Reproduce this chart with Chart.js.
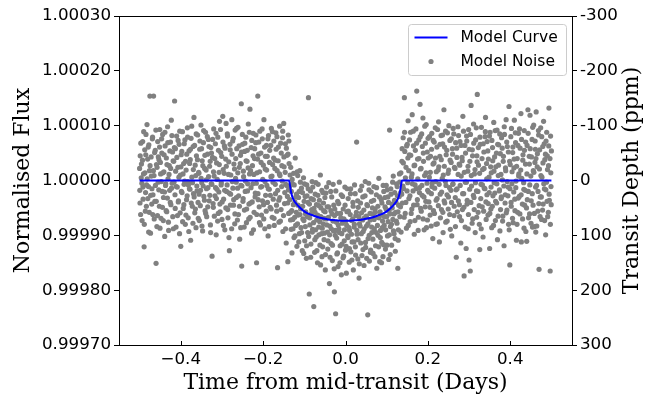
<!DOCTYPE html>
<html>
<head>
<meta charset="utf-8">
<script src="https://cdn.jsdelivr.net/npm/chart.js@4.4.0/dist/chart.umd.min.js"></script>
<style>
html, body { margin: 0; padding: 0; background: #fff; }
#wrap { width: 645px; height: 398px; }
</style>
</head>
<body>
<div id="wrap"><canvas id="lightCurve" width="645" height="398"></canvas></div>
<script>
// Model transit curve: time (days) and flux offset (ppm)
const modelX = [-0.5, -0.137, -0.135, -0.132, -0.128, -0.122, -0.114, -0.104, -0.092, -0.078, -0.062, -0.045, -0.025, 0,
                0.025, 0.045, 0.062, 0.078, 0.092, 0.104, 0.114, 0.122, 0.128, 0.132, 0.135, 0.137, 0.5];
const modelPpm = [0, 0, -8, -22, -32, -40, -47, -54, -60, -64, -68, -70.5, -72.5, -73.5,
                  -72.5, -70.5, -68, -64, -60, -54, -47, -40, -32, -22, -8, 0, 0];

// Noise points: [time in thousandths of a day, flux offset in ppm]
const noisePoints = [
[-500,22],[-499,-41],[-497,68],[-496,5],[-494,-73],[-493,37],[-492,-12],[-490,89],[-489,-121],[-487,14],[-486,-56],[-485,47],[-483,-8],[-482,102],[-480,-33],[-479,61],[-478,-94],[-476,18],[-475,154],[-473,-27],
[-472,43],[-470,-15],[-469,76],[-468,-62],[-466,154],[-465,9],[-463,-38],[-462,55],[-460,-151],[-459,29],[-458,-84],[-456,71],[-455,-3],[-453,38],[-452,-47],[-451,93],[-449,12],[-448,-69],[-446,50],[-445,-20],
[-444,84],[-442,-31],[-441,16],[-439,-102],[-438,63],[-437,-9],[-435,41],[-434,-57],[-432,98],[-431,3],[-430,-76],[-428,27],[-427,-18],[-425,70],[-424,-44],[-423,110],[-421,-5],[-420,52],[-418,-88],[-417,35],
[-415,145],[-414,-26],[-413,58],[-411,-11],[-410,81],[-408,-64],[-407,24],[-406,-39],[-404,66],[-403,-97],[-401,10],[-400,-120],[-399,47],[-397,-22],[-396,89],[-394,-51],[-393,31],[-392,-7],[-390,74],[-389,-80],
[-387,19],[-386,-35],[-384,96],[-383,-2],[-382,-68],[-380,54],[-379,-15],[-377,38],[-376,-109],[-375,77],[-373,6],[-372,-47],[-370,62],[-369,-24],[-368,115],[-366,-59],[-365,28],[-363,-86],[-362,45],[-361,-10],
[-359,83],[-358,-40],[-356,13],[-355,-73],[-354,57],[-352,-18],[-351,101],[-349,-4],[-348,36],[-347,-92],[-345,69],[-344,-29],[-342,22],[-341,-55],[-340,88],[-338,1],[-337,-66],[-335,48],[-334,-13],[-333,75],
[-331,-37],[-330,26],[-328,-81],[-327,60],[-326,-6],[-324,-138],[-323,42],[-321,-49],[-320,94],[-319,8],[-317,-28],[-316,67],[-314,-99],[-313,32],[-312,-16],[-310,79],[-309,-60],[-307,15],[-306,108],[-305,-43],
[-303,51],[-302,-8],[-300,-71],[-298,117],[-297,20],[-296,-34],[-294,63],[-293,-90],[-291,39],[-290,104],[-289,-20],[-287,85],[-286,-53],[-284,11],[-283,-104],[-282,-128],[-280,56],[-279,-25],[-276,111],[-275,-2],
[-274,72],[-272,-45],[-271,30],[-269,-79],[-268,92],[-267,4],[-265,-31],[-264,58],[-262,-14],[-261,97],[-260,-62],[-258,24],[-257,-107],[-255,46],[-254,-9],[-253,140],[-252,-156],[-250,66],[-249,-38],[-248,17],
[-246,-85],[-245,53],[-243,-1],[-242,79],[-240,-52],[-239,35],[-238,-19],[-236,103],[-235,-70],[-233,12],[-232,130],[-231,-41],[-229,60],[-228,-96],[-226,27],[-225,-6],[-224,86],[-222,-58],[-221,40],[-219,-23],
[-218,69],[-216,-150],[-215,14],[-213,154],[-212,-35],[-211,48],[-209,-77],[-208,90],[-206,-12],[-205,33],[-204,-63],[-202,76],[-201,2],[-199,-44],[-198,111],[-196,-88],[-195,21],[-194,-27],[-192,64],[-191,-9],
[-190,44],[-188,-101],[-187,82],[-185,-16],[-184,55],[-183,-49],[-181,7],[-180,95],[-178,-67],[-177,29],[-176,-3],[-174,72],[-173,-82],[-171,37],[-170,-24],[-169,87],[-167,-56],[-166,18],[-165,-159],[-163,61],
[-162,-36],[-160,99],[-159,9],[-158,-74],[-156,50],[-155,-11],[-153,78],[-152,-93],[-150,104],[-149,25],[-148,-42],[-146,67],[-145,-7],[-144,-114],[-142,46],[-141,-29],[-140,-148],[-139,83],[-138,-60],[-137,31],
[-136,-12],[-134,-58],[-133,24],[-132,-89],[-130,-132],[-129,-6],[-128,-71],[-126,13],[-125,-104],[-123,-39],[-122,41],[-121,-82],[-119,-25],[-118,-120],[-116,9],[-115,-63],[-114,-31],[-112,-97],[-111,18],[-109,-52],
[-108,-86],[-107,-14],[-105,-128],[-104,-47],[-102,5],[-101,-73],[-99,-110],[-98,-29],[-97,-61],[-95,-142],[-94,-8],[-92,-95],[-91,-40],[-90,151],[-88,-207],[-87,-68],[-85,-19],[-84,-116],[-82,-53],[-81,-2],
[-80,-89],[-78,-35],[-77,-230],[-75,-131],[-74,-58],[-72,-4],[-71,-103],[-70,-72],[-68,-150],[-67,-27],[-65,-85],[-64,-46],[-62,-118],[-61,10],[-60,-66],[-58,-97],[-57,-139],[-55,-22],[-54,-79],[-53,-55],
[-52,-108],[-50,-31],[-49,-163],[-47,-70],[-46,-12],[-44,-94],[-43,-125],[-41,-48],[-39,-188],[-38,-83],[-36,-20],[-35,-115],[-33,-61],[-32,-146],[-30,-7],[-29,-92],[-27,-203],[-26,-52],[-24,-243],[-25,-100],
[-22,-76],[-21,-134],[-19,-38],[-18,-157],[-16,-88],[-15,-3],[-13,-119],[-12,-60],[-10,-172],[-9,-97],[-7,-29],[-6,-141],[-4,-70],[-3,-110],[-1,-45],[0,-127],[2,-169],[3,-82],[4,-15],[6,-104],
[7,-56],[9,-149],[10,-91],[12,-24],[13,-130],[15,-73],[16,-112],[18,-40],[19,-163],[21,-85],[22,-8],[24,-121],[25,-64],[27,70],[28,-98],[30,-143],[31,-49],[33,-178],[34,-79],[36,-18],
[37,-114],[39,-59],[40,-137],[42,-30],[43,-93],[45,-155],[46,-68],[48,-2],[49,-122],[51,-83],[52,-44],[54,-245],[55,-106],[57,-17],[58,-147],[60,-72],[61,-127],[63,-38],[64,-95],[66,-61],
[67,-133],[69,-11],[70,-88],[72,-52],[73,-119],[75,-26],[76,-160],[78,-67],[79,-100],[81,4],[83,-148],[84,-57],[85,-91],[87,-35],[88,-113],[90,-74],[91,-139],[93,-20],[94,-82],[96,-48],
[97,-125],[99,-9],[100,-66],[102,-101],[103,-30],[105,-144],[106,-55],[107,92],[109,-84],[110,-15],[112,-118],[113,-43],[115,-71],[116,8],[118,-97],[119,-36],[121,-129],[122,-58],[124,-6],[127,-160],
[125,-78],[126,-28],[128,-109],[129,-45],[131,12],[132,-66],[134,-22],[135,-94],[137,35],[138,-41],[140,78],[141,-15],[143,151],[144,53],[145,-60],[147,24],[148,-87],[150,66],[151,-4],[152,109],
[154,-33],[155,47],[157,-75],[158,88],[160,6],[161,-52],[162,120],[164,-19],[165,63],[167,-98],[168,28],[169,-8],[171,94],[173,163],[174,-44],[175,39],[177,-67],[178,74],[180,-13],[181,139],
[182,21],[184,-56],[185,85],[186,-27],[188,114],[189,50],[191,-90],[192,9],[194,68],[195,-38],[196,102],[198,-5],[199,-72],[201,41],[202,-21],[204,80],[205,-49],[206,15],[208,-83],[209,57],
[210,-11],[212,-106],[213,73],[215,32],[216,-60],[218,96],[219,-2],[220,-36],[222,61],[223,-79],[225,19],[226,107],[228,-112],[229,44],[230,-25],[232,82],[233,-53],[235,4],[236,67],[237,-95],
[239,129],[240,26],[241,-41],[243,90],[244,-9],[246,55],[247,-74],[249,13],[250,-30],[251,100],[253,-62],[254,37],[256,-18],[257,76],[258,-101],[260,48],[261,-6],[263,85],[264,-47],[266,22],
[267,-84],[269,-140],[270,59],[271,-15],[273,98],[274,-37],[276,30],[277,-66],[278,71],[280,-114],[281,8],[283,42],[284,-53],[285,117],[287,-24],[288,-174],[290,64],[291,-3],[293,-124],[294,81],
[295,-43],[297,17],[298,-88],[299,93],[300,-145],[302,35],[303,-165],[305,137],[306,-10],[308,56],[309,-70],[311,103],[312,-31],[313,12],[315,-95],[316,74],[318,-19],[319,45],[320,157],[322,-58],
[323,28],[325,-80],[326,-126],[327,66],[329,-7],[330,97],[332,-48],[333,20],[334,-103],[336,52],[337,-14],[339,80],[340,115],[341,-39],[343,3],[344,71],[346,-63],[347,39],[349,-22],[350,-124],
[351,88],[353,-52],[354,14],[355,-86],[357,60],[358,-28],[360,106],[361,-4],[362,43],[364,-73],[365,25],[367,-41],[368,92],[369,-108],[371,9],[372,65],[374,-17],[375,-92],[376,49],[378,-33],
[379,78],[381,1],[382,-65],[383,35],[385,-119],[386,84],[388,-26],[389,18],[390,111],[392,-54],[393,62],[395,-12],[396,-80],[397,135],[399,-154],[400,29],[402,-40],[403,95],[404,-6],[406,51],
[407,-77],[409,23],[410,110],[411,-34],[413,69],[414,-1],[415,-109],[417,40],[418,-58],[420,86],[421,12],[422,-29],[424,59],[426,122],[427,-112],[428,4],[430,-70],[431,47],[433,-16],[434,91],
[435,-45],[437,30],[438,-93],[440,-111],[441,64],[443,129],[444,-20],[446,44],[447,-61],[448,119],[450,8],[451,-37],[453,75],[454,-85],[456,18],[457,101],[459,-84],[460,33],[462,-94],[461,57],
[463,125],[464,-9],[466,49],[467,-56],[469,83],[470,-162],[471,21],[473,-30],[474,96],[476,-71],[477,6],[479,62],[480,-43],[481,108],[483,-15],[484,38],[486,-99],[487,72],[488,-3],[490,45],
[491,-66],[493,27],[494,132],[495,-36],[497,-165],[498,81],[499,-11],[500,54],
[-499.5,-18],[-498.5,45],[-497.5,-62],[-495.5,30],[-494.5,-5],[-492.5,71],[-491.5,-34],[-490.5,12],[-488.5,-80],[-487.5,56],[-485.5,-22],[-484.5,84],[-483.5,-47],[-481.5,3],[-480.5,39],[-478.5,-11],[-477.5,65],[-476.5,-58],[-474.5,27],[-473.5,-96],
[-471.5,8],[-470.5,-43],[-468.5,79],[-467.5,-26],[-466.5,18],[-464.5,-70],[-463.5,51],[-461.5,-9],[-460.5,92],[-459.5,-38],[-457.5,24],[-456.5,-64],[-454.5,43],[-453.5,-17],[-451.5,61],[-450.5,-87],[-449.5,33],[-447.5,-2],[-446.5,76],[-444.5,-49],
[-443.5,14],[-442.5,-73],[-440.5,47],[-439.5,-21],[-438.5,88],[-436.5,-6],[-435.5,-55],[-433.5,29],[-432.5,-32],[-431.5,69],[-429.5,-91],[-428.5,11],[-426.5,54],[-425.5,-40],[-424.5,22],[-422.5,-14],[-421.5,82],[-419.5,-66],[-418.5,36],[-416.5,-3],
[-415.5,60],[-413.5,-51],[-412.5,17],[-411.5,-85],[-409.5,42],[-408.5,-12],[-406.5,73],[-405.5,-37],[-404.5,6],[-402.5,90],[-401.5,-59],[-399.5,25],[-398.5,-20],[-397.5,53],[-395.5,-75],[-394.5,12],[-392.5,-44],[-391.5,67],[-390.5,-1],[-388.5,35],
[-387.5,-63],[-385.5,48],[-384.5,-28],[-383.5,79],[-381.5,-8],[-380.5,-93],[-378.5,31],[-377.5,-16],[-376.5,57],[-374.5,-41],[-373.5,99],[-371.5,-4],[-370.5,-78],[-369.5,20],[-367.5,-30],[-366.5,64],[-364.5,-52],[-363.5,9],[-362.5,85],[-360.5,-19],
[-359.5,38],[-357.5,-69],[-356.5,15],[-355.5,-25],[-353.5,72],[-352.5,-46],[-350.5,4],[-349.5,58],[-348.5,-83],[-346.5,27],[-345.5,-10],[-344.5,91],[-342.5,-36],[-341.5,46],[-339.5,-60],[-338.5,19],[-337.5,-15],[-335.5,80],[-334.5,-48],[-332.5,7],
[-331.5,62],[-329.5,-27],[-328.5,35],[-327.5,-95],[-325.5,50],[-324.5,-7],[-322.5,75],[-321.5,-42],[-320.5,16],[-318.5,-65],[-317.5,40],[-315.5,-13],[-314.5,86],[-313.5,-33],[-311.5,2],[-310.5,-74],[-308.5,55],[-307.5,-21],[-306.5,29],[-304.5,-57],
[-303.5,93],[-301.5,-4],[-300.5,44],[-299.5,-39],[-297.5,70],[-296.5,-82],[-294.5,13],[-293.5,-18],[-292.5,59],[-290.5,-50],[-289.5,26],[-287.5,-8],[-286.5,81],[-285.5,-68],[-283.5,34],[-282.5,-23],[-280.5,66],[-279.5,-45],[-278.5,10],[-276.5,-88],
[-275.5,48],[-273.5,-14],[-272.5,77],[-271.5,-35],[-269.5,21],[-268.5,-61],[-266.5,40],[-265.5,-3],[-264.5,95],[-262.5,-72],[-261.5,14],[-259.5,-28],[-258.5,63],[-257.5,-47],[-255.5,31],[-254.5,-86],[-252.5,52],[-251.5,-10],[-250.5,84],[-248.5,-33],
[-247.5,7],[-245.5,-54],[-244.5,68],[-243.5,-20],[-241.5,36],[-240.5,-77],[-238.5,55],[-237.5,-6],[-236.5,23],[-234.5,-43],[-233.5,88],[-231.5,-67],[-230.5,18],[-229.5,-13],[-227.5,73],[-226.5,-39],[-224.5,45],[-223.5,-90],[-222.5,11],[-220.5,58],
[-219.5,-30],[-217.5,83],[-216.5,-5],[-215.5,-62],[-213.5,39],[-212.5,-24],[-210.5,70],[-209.5,-48],[-208.5,16],[-206.5,-81],[-205.5,50],[-203.5,-11],[-202.5,94],[-201.5,-37],[-199.5,28],[-198.5,-70],[-196.5,61],[-195.5,-2],[-194.5,44],[-192.5,-56],
[-191.5,19],[-189.5,-40],[-188.5,76],[-187.5,-15],[-185.5,-84],[-184.5,33],[-182.5,-27],[-181.5,64],[-180.5,-52],[-178.5,8],[-177.5,89],[-175.5,-34],[-174.5,41],[-173.5,-69],[-171.5,22],[-170.5,-7],[-168.5,57],[-167.5,-45],[-166.5,80],[-164.5,-18],
[-163.5,36],[-161.5,-76],[-160.5,12],[-159.5,-31],[-157.5,68],[-156.5,-53],[-154.5,27],[-153.5,-1],[-152.5,90],[-150.5,-64],[-149.5,43],[-147.5,-22],[-146.5,15],[-145.5,-88],[-143.5,59],[-142.5,-9],[-140.5,-41],[-139.5,48],[-138.5,-17],[-137.5,72],
[-135.5,-35],[-134.5,10],[-133.5,-72],[-131.5,-20],[-130.5,-55],[-129.5,2],[-127.5,-88],[-126.5,-44],[-124.5,-8],[-123.5,-67],[-122.5,-101],[-120.5,-30],[-119.5,-58],[-117.5,16],[-116.5,-79],[-115.5,-45],[-113.5,-112],[-112.5,-20],[-110.5,-62],[-109.5,-3],
[-107.5,-48],[-106.5,-95],[-104.5,-22],[-103.5,-70],[-101.5,-133],[-100.5,-38],[-99.5,-6],[-97.5,-84],[-96.5,-57],[-94.5,-119],[-93.5,-28],[-92.5,-66],[-90.5,-15],[-89.5,-102],[-87.5,-43],[-86.5,-81],[-84.5,-140],[-83.5,-33],[-82.5,-60],[-80.5,-94],
[-79.5,-12],[-77.5,-77],[-76.5,-51],[-74.5,-108],[-73.5,-25],[-72.5,-90],[-70.5,-44],[-69.5,-128],[-67.5,-63],[-66.5,-7],[-64.5,-99],[-63.5,-36],[-62.5,-75],[-60.5,-154],[-59.5,-50],[-57.5,-18],[-56.5,-87],[-55.5,-121],[-53.5,-41],[-52.5,-69],
[-51.5,-96],[-49.5,-57],[-48.5,-135],[-47.5,-23],[-45.5,-81],[-44.5,-48],[-42.5,-110],[-41.5,-67],[-40.5,-4],[-38.5,-99],[-37.5,-140],[-35.5,-55],[-34.5,-88],[-33.5,-30],[-31.5,-118],[-30.5,-74],[-28.5,-45],[-27.5,-161],[-26.5,-64],[-24.5,-91],
[-23.5,-19],[-21.5,-105],[-20.5,-60],[-19.5,-132],[-17.5,-81],[-16.5,-42],[-14.5,-95],[-13.5,-150],[-11.5,-68],[-10.5,-26],[-8.5,-116],[-7.5,-78],[-5.5,-52],[-4.5,-138],[-2.5,-90],[-1.5,-12],[0.5,-74],[1.5,-120],[3.5,-57],[5.5,-101],
[6.5,-33],[8.5,-86],[9.5,-124],[11.5,-62],[12.5,-15],[14.5,-98],[15.5,-145],[17.5,-70],[18.5,-47],[20.5,-112],[21.5,-80],[23.5,-24],[24.5,-136],[26.5,-58],[27.5,-91],[29.5,-37],[30.5,-108],[32.5,-66],[33.5,-152],[35.5,-83],
[36.5,-41],[38.5,-97],[39.5,-10],[41.5,-72],[42.5,-126],[44.5,-54],[45.5,-88],[47.5,-28],[48.5,-113],[50.5,-65],[51.5,-142],[53.5,-46],[54.5,-79],[56.5,-5],[57.5,-100],[59.5,-60],[60.5,-131],[62.5,-21],[63.5,-85],[65.5,-50],
[66.5,-107],[68.5,-36],[69.5,-71],[71.5,-139],[72.5,-58],[74.5,-95],[75.5,-13],[77.5,-82],[78.5,-47],[80.5,-121],[81.5,-68],[82.5,-30],[84.5,-104],[85.5,-63],[87.5,-150],[88.5,-41],[89.5,-86],[91.5,-9],[92.5,-117],[94.5,-66],
[95.5,-31],[97.5,-90],[98.5,-52],[100.5,-118],[101.5,-17],[103.5,-75],[104.5,-40],[106.5,-99],[107.5,-61],[108.5,-135],[110.5,-25],[111.5,-80],[113.5,-50],[114.5,-3],[116.5,-92],[117.5,-61],[119.5,-22],[120.5,-106],[122.5,-40],[123.5,-74],
[125.5,-11],[127.5,-57],[128.5,-90],[130.5,-29],[131.5,-3],[133.5,-48],[134.5,14],[136.5,-25],[137.5,58],[139.5,-10],[140.5,32],[142.5,-67],[143.5,88],[145.5,5],[146.5,-40],[148.5,63],[149.5,-19],[151.5,41],[152.5,-82],[153.5,18],
[155.5,74],[156.5,-28],[158.5,46],[159.5,-60],[161.5,12],[162.5,-6],[164.5,90],[165.5,-45],[166.5,27],[168.5,-73],[169.5,55],[171.5,-15],[172.5,68],[174.5,-35],[175.5,3],[176.5,-91],[178.5,40],[179.5,-22],[181.5,80],[182.5,-51],
[183.5,22],[185.5,-9],[186.5,62],[188.5,-70],[189.5,35],[190.5,-30],[192.5,99],[193.5,-48],[195.5,14],[196.5,-86],[198.5,52],[199.5,-18],[200.5,77],[202.5,-39],[203.5,6],[205.5,-63],[206.5,44],[208.5,-24],[209.5,86],[210.5,-5],
[212.5,30],[213.5,-55],[215.5,70],[216.5,-14],[218.5,41],[219.5,-80],[220.5,16],[222.5,-33],[223.5,93],[225.5,-46],[226.5,25],[227.5,-7],[229.5,66],[230.5,-68],[232.5,38],[233.5,-21],[235.5,83],[236.5,-58],[237.5,10],[239.5,-37],
[240.5,61],[242.5,-2],[243.5,-76],[244.5,47],[246.5,-26],[247.5,87],[249.5,-52],[250.5,19],[252.5,-13],[253.5,73],[254.5,-89],[256.5,33],[257.5,-40],[259.5,58],[260.5,-7],[261.5,95],[263.5,-64],[264.5,24],[266.5,-31],[267.5,69],
[268.5,-17],[270.5,42],[271.5,-57],[273.5,11],[274.5,82],[276.5,-44],[277.5,28],[278.5,-9],[280.5,64],[281.5,-73],[283.5,36],[284.5,-24],[286.5,90],[287.5,-49],[288.5,15],[290.5,-85],[291.5,50],[293.5,-3],[294.5,72],[295.5,-36],
[297.5,26],[298.5,-62],[300.5,57],[301.5,-16],[303.5,84],[304.5,-40],[305.5,9],[307.5,-78],[308.5,45],[310.5,-27],[311.5,68],[312.5,-53],[314.5,20],[315.5,-4],[317.5,96],[318.5,-67],[319.5,34],[321.5,-20],[322.5,60],[324.5,-46],
[325.5,13],[326.5,79],[328.5,-33],[329.5,-88],[331.5,40],[332.5,-8],[334.5,67],[335.5,-56],[336.5,22],[338.5,-15],[339.5,89],[341.5,-71],[342.5,31],[343.5,-26],[345.5,54],[346.5,-42],[348.5,6],[349.5,81],[350.5,-60],[352.5,25],
[353.5,-12],[355.5,73],[356.5,-47],[357.5,36],[359.5,-82],[360.5,17],[362.5,-23],[363.5,91],[364.5,-38],[366.5,50],[367.5,-6],[369.5,66],[370.5,-65],[371.5,28],[373.5,-19],[374.5,85],[376.5,-53],[377.5,11],[378.5,-30],[380.5,59],
[381.5,-74],[383.5,44],[384.5,-10],[385.5,98],[387.5,-41],[388.5,23],[390.5,-59],[391.5,70],[392.5,-2],[394.5,-28],[395.5,52],[397.5,-90],[398.5,35],[399.5,-15],[401.5,80],[402.5,-47],[404.5,16],[405.5,-69],[406.5,61],[408.5,-21],
[409.5,39],[411.5,-55],[412.5,87],[413.5,-13],[415.5,26],[416.5,-80],[418.5,64],[419.5,-32],[420.5,8],[422.5,94],[423.5,-61],[425.5,19],[426.5,-26],[427.5,75],[429.5,-43],[430.5,37],[432.5,-4],[433.5,-87],[434.5,55],[436.5,-18],
[437.5,70],[439.5,-50],[440.5,12],[441.5,-35],[443.5,86],[444.5,-68],[446.5,30],[447.5,-8],[448.5,58],[450.5,-78],[451.5,43],[453.5,-24],[454.5,97],[455.5,-45],[457.5,15],[458.5,-60],[460.5,72],[461.5,-12],[462.5,40],[464.5,-83],
[465.5,25],[467.5,-20],[468.5,91],[469.5,-42],[471.5,56],[472.5,-66],[474.5,9],[475.5,-30],[476.5,80],[478.5,-54],[479.5,32],[481.5,-6],[482.5,67],[483.5,-73],[485.5,48],[486.5,-17],[488.5,88],[489.5,-38],[490.5,20],[492.5,-58],
[493.5,63],[494.5,-25],[496.5,40],[497.5,-80],[498.5,14],[499.5,-44]
];

// Axis ticks
const xTicks = [-0.4, -0.2, 0, 0.2, 0.4];
const xTickLabels = ['\u22120.4', '\u22120.2', '0.0', '0.2', '0.4'];
const fluxTicks = [0.9997, 0.9998, 0.9999, 1.0, 1.0001, 1.0002, 1.0003];
const fluxTickLabels = ['0.99970', '0.99980', '0.99990', '1.00000', '1.00010', '1.00020', '1.00030'];
const depthTicks = [-300, -200, -100, 0, 100, 200, 300];
const depthTickLabels = ['-300', '-200', '-100', '0', '100', '200', '300'];

const tickFont = { family: 'DejaVu Sans', size: 16.7 };
const titleFont = { family: 'DejaVu Serif', size: 22 };

// ppm offset -> normalised flux
function toFlux(ppm) {
    return 1 + ppm * 1e-6;
}

const modelData = modelX.map((x, i) => ({ x: x, y: toFlux(modelPpm[i]) }));
const noiseData = noisePoints.map(p => ({ x: p[0] / 1000, y: toFlux(p[1]) }));

function labelFor(values, labels) {
    return function(value) {
        for (let i = 0; i < values.length; i++) {
            if (Math.abs(values[i] - value) < 1e-9) return labels[i];
        }
        return '';
    };
}

// Inward bottom ticks, top spine, legend and right-hand title
const decorPlugin = {
    id: 'decor',
    afterDatasetsDraw(chart) {
        const ctx = chart.ctx;
        const area = chart.chartArea;
        const xScale = chart.scales.x;

        ctx.save();
        ctx.strokeStyle = '#000';
        ctx.lineWidth = 1;
        ctx.beginPath();
        ctx.moveTo(area.left, Math.round(area.top) + 0.5);
        ctx.lineTo(area.right, Math.round(area.top) + 0.5);
        xTicks.forEach(v => {
            const px = Math.round(xScale.getPixelForValue(v)) + 0.5;
            ctx.moveTo(px, area.bottom);
            ctx.lineTo(px, area.bottom - 4);
        });
        ctx.stroke();

        // legend
        const ds = chart.data.datasets;
        const boxW = 158, boxH = 51;
        const bx = area.right - 6 - boxW + 0.5;
        const by = area.top + 8 + 0.5;
        ctx.beginPath();
        ctx.roundRect(bx, by, boxW, boxH, 3);
        ctx.fillStyle = 'rgba(255,255,255,0.8)';
        ctx.fill();
        ctx.strokeStyle = '#cccccc';
        ctx.stroke();

        const row1 = by + 13, row2 = by + 37;
        ctx.strokeStyle = ds[0].borderColor;
        ctx.lineWidth = 2;
        ctx.beginPath();
        ctx.moveTo(bx + 6, row1);
        ctx.lineTo(bx + 39, row1);
        ctx.stroke();

        ctx.fillStyle = ds[1].backgroundColor;
        ctx.beginPath();
        ctx.arc(bx + 22.5, row2, 2.6, 0, Math.PI * 2);
        ctx.fill();

        ctx.fillStyle = '#000';
        ctx.font = '15.5px "DejaVu Sans"';
        ctx.textAlign = 'left';
        ctx.textBaseline = 'middle';
        ctx.fillText(ds[0].label, bx + 52, row1);
        ctx.fillText(ds[1].label, bx + 52, row2);

        // right axis title, reading bottom to top
        ctx.translate(632, (area.top + area.bottom) / 2);
        ctx.rotate(-Math.PI / 2);
        ctx.font = '22px "DejaVu Serif"';
        ctx.textAlign = 'center';
        ctx.fillText('Transit Depth (ppm)', 0, 0);
        ctx.restore();
    }
};

const ctx = document.getElementById('lightCurve').getContext('2d');
new Chart(ctx, {
    type: 'scatter',
    data: {
        datasets: [
            {
                label: 'Model Curve',
                data: modelData,
                showLine: true,
                borderColor: '#0000ff',
                borderWidth: 2,
                pointRadius: 0,
                cubicInterpolationMode: 'monotone',
                yAxisID: 'y'
            },
            {
                label: 'Model Noise',
                data: noiseData,
                backgroundColor: '#808080',
                borderWidth: 0,
                pointRadius: 2.6,
                yAxisID: 'y'
            }
        ]
    },
    options: {
        responsive: false,
        animation: false,
        events: [],
        layout: { padding: { top: 16, left: 0, right: 0, bottom: 0 } },
        plugins: {
            legend: { display: false },
            tooltip: { enabled: false }
        },
        scales: {
            x: {
                type: 'linear',
                min: -0.55,
                max: 0.55,
                afterBuildTicks: s => { s.ticks = xTicks.map(v => ({ value: v })); },
                afterFit: s => { s.height = 53; },
                ticks: {
                    font: tickFont,
                    color: '#000',
                    padding: 5,
                    maxRotation: 0,
                    autoSkip: false,
                    callback: labelFor(xTicks, xTickLabels)
                },
                grid: { drawOnChartArea: false, drawTicks: false },
                border: { display: true, color: '#000', width: 1 },
                title: {
                    display: true,
                    text: 'Time from mid-transit (Days)',
                    font: titleFont,
                    color: '#000',
                    padding: { top: 0, bottom: 2 }
                }
            },
            y: {
                type: 'linear',
                position: 'left',
                min: 0.9997,
                max: 1.0003,
                afterBuildTicks: s => { s.ticks = fluxTicks.map(v => ({ value: v })); },
                afterFit: s => { s.width = 119; },
                ticks: {
                    font: tickFont,
                    color: '#000',
                    padding: 3,
                    autoSkip: false,
                    callback: labelFor(fluxTicks, fluxTickLabels)
                },
                grid: { drawOnChartArea: false, drawTicks: true, tickLength: 5, tickColor: '#000' },
                border: { display: true, color: '#000', width: 1 },
                title: {
                    display: true,
                    text: 'Normalised Flux',
                    font: titleFont,
                    color: '#000',
                    padding: { top: 10, bottom: 0 }
                }
            },
            depth: {
                type: 'linear',
                position: 'right',
                reverse: true,
                min: -300,
                max: 300,
                afterBuildTicks: s => { s.ticks = depthTicks.map(v => ({ value: v })); },
                afterFit: s => { s.width = 73; },
                ticks: {
                    font: tickFont,
                    color: '#000',
                    padding: 3,
                    autoSkip: false,
                    callback: labelFor(depthTicks, depthTickLabels)
                },
                grid: { drawOnChartArea: false, drawTicks: true, tickLength: 5, tickColor: '#000' },
                border: { display: true, color: '#000', width: 1 }
            }
        }
    },
    plugins: [decorPlugin]
});
</script>
</body>
</html>
